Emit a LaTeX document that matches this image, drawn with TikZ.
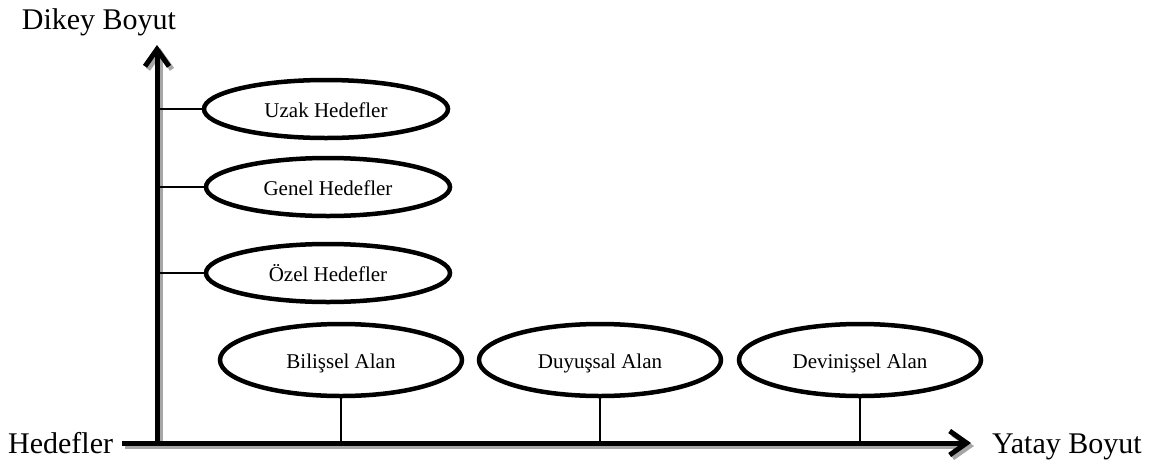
\documentclass[tikz,border=0pt]{standalone}
\usepackage{fontspec}
\setmainfont{Liberation Serif}
\usetikzlibrary{shapes.geometric,arrows.meta}
\begin{document}
\begin{tikzpicture}[x=1pt,y=-1pt,
  goal/.style={ellipse,draw,line width=4.5pt,minimum width=244pt,minimum height=58pt,inner sep=0pt,
    font=\fontsize{21}{24}\selectfont,text height=17pt,text depth=0pt},
  dom/.style={goal,minimum width=242pt,minimum height=72pt},
  axis/.style={line width=5pt,-{Straight Barb[length=17pt,width=24pt,line width=5pt]}},
  axshadow/.style={axis,draw=black!35},
  link/.style={line width=1.5pt},
  lbl/.style={font=\fontsize{30}{34}\selectfont,inner sep=0pt}]
\useasboundingbox (0,0) rectangle (1152,464);
% axis coordinates
\coordinate (o) at (157,446);
\coordinate (vtop) at (157,45);
\coordinate (hs) at (122,443);
\coordinate (htip) at (971,443);
% shadows
\draw[axshadow] ([shift={(3,3)}]o) -- ([shift={(3,3)}]vtop);
\draw[axshadow] ([shift={(3,3)}]hs) -- ([shift={(3,3)}]htip);
% axes
\draw[axis] (o) -- (vtop);
\draw[axis] (hs) -- (htip);
% labels
\node[lbl,anchor=base] (dikey) at (99,29) {Dikey Boyut};
\node[lbl,anchor=base west] (hedef) at (8,453) {Hedefler};
\node[lbl,anchor=base west] (yatay) at (992,453) {Yatay Boyut};
% vertical goals
\node[goal] (uzak) at (326,109) {Uzak Hedefler};
\node[goal] (genel) at (328,187) {Genel Hedefler};
\node[goal] (ozel) at (328,273) {Özel Hedefler};
\coordinate (v1) at (157,109);
\coordinate (v2) at (157,187);
\coordinate (v3) at (157,273);
\draw[link] (v1) -- (uzak.west);
\draw[link] (v2) -- (genel.west);
\draw[link] (v3) -- (ozel.west);
% domains
\node[dom] (bil) at (341,360) {Bilişsel Alan};
\node[dom] (duy) at (600,360) {Duyuşsal Alan};
\node[dom] (dev) at (860,360) {Devinişsel Alan};
\coordinate (h1) at (341,443);
\coordinate (h2) at (600,443);
\coordinate (h3) at (860,443);
\draw[link] (bil.south) -- (h1);
\draw[link] (duy.south) -- (h2);
\draw[link] (dev.south) -- (h3);
\end{tikzpicture}
\end{document}
